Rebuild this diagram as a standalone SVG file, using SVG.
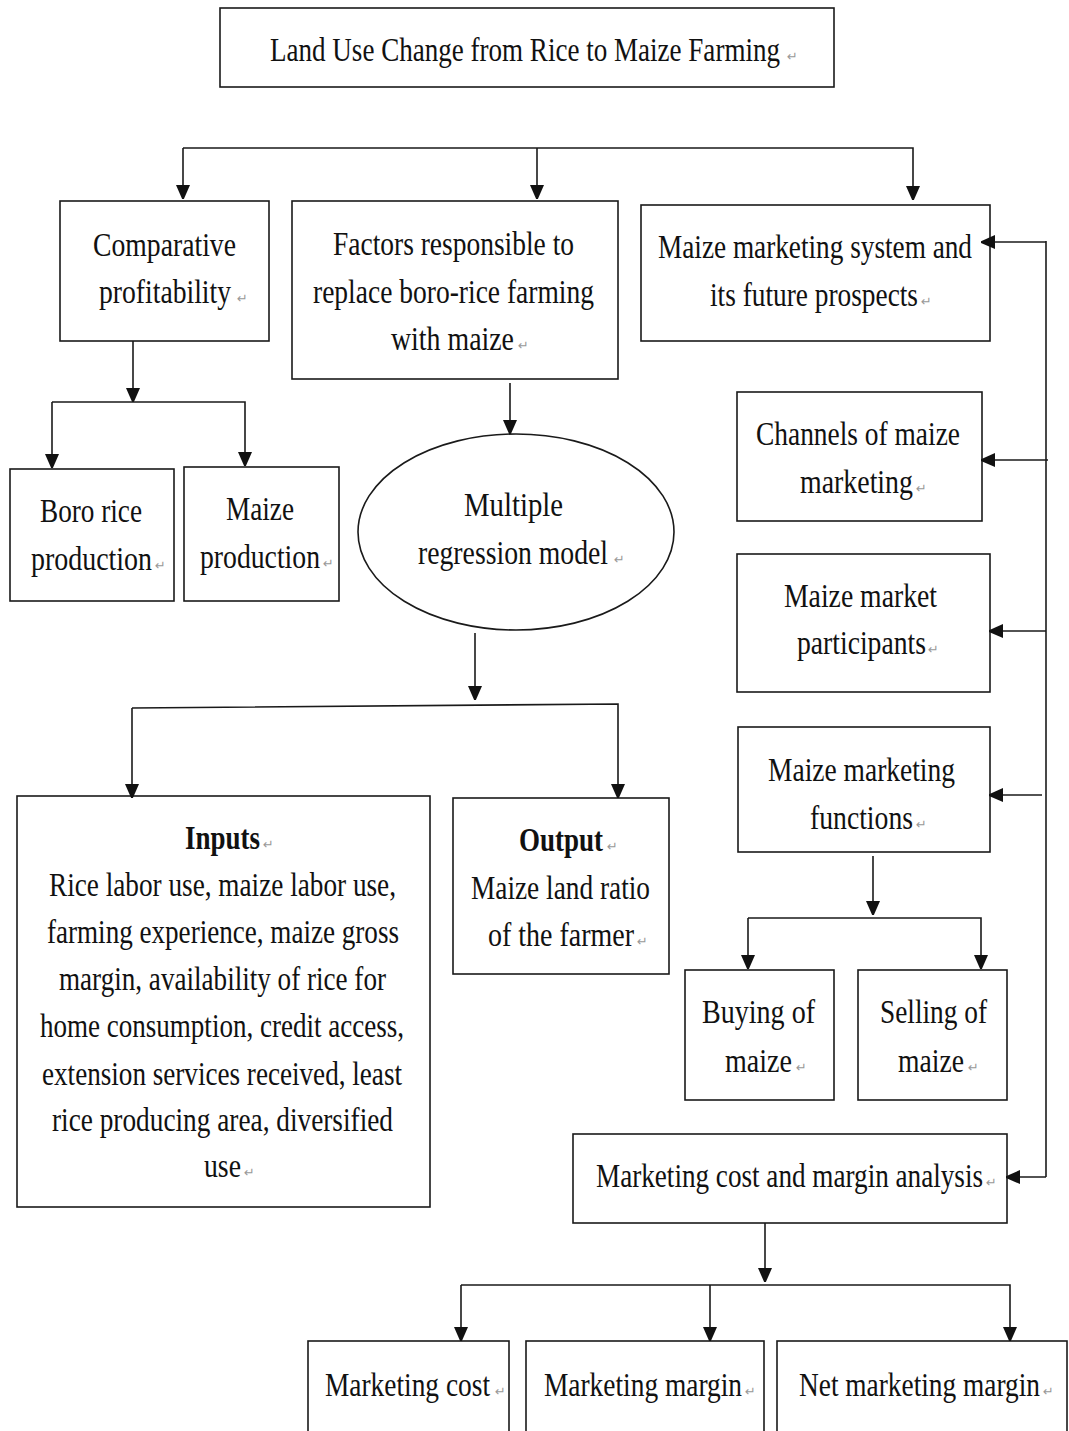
<svg xmlns="http://www.w3.org/2000/svg" width="1069" height="1431" viewBox="0 0 1069 1431">
<style>
.box{fill:#fff;stroke:#1a1a1a;stroke-width:1.6}
.t{font-family:"Liberation Serif","Times New Roman",serif;font-size:34px;fill:#111}
.b{font-weight:bold}
.p{font-family:"DejaVu Sans",sans-serif;font-size:13px;fill:#999}
.c{fill:none;stroke:#1a1a1a;stroke-width:1.6}
</style>
<defs>
<marker id="ah" markerUnits="userSpaceOnUse" markerWidth="14" markerHeight="18" viewBox="0 0 14 18" refX="13" refY="7" orient="auto">
<path d="M0,0 L16,7 L0,14 Z" fill="#111"/>
</marker>
</defs>
<rect width="1069" height="1431" fill="#fff"/>

<g id="title">
<rect class="box" x="220" y="8" width="614" height="79"/>
<text class="t" transform="scale(0.8,1)" x="337.5" y="61" textLength="637.5" lengthAdjust="spacingAndGlyphs">Land Use Change from Rice to Maize Farming</text>
<text class="p" x="787" y="61">↵</text>
</g>

<g id="comparative">
<rect class="box" x="60" y="201" width="209" height="140"/>
<text class="t" transform="scale(0.8,1)" x="116.25" y="256" textLength="178.75" lengthAdjust="spacingAndGlyphs">Comparative</text>
<text class="t" transform="scale(0.8,1)" x="123.75" y="303" textLength="165" lengthAdjust="spacingAndGlyphs">profitability</text>
<text class="p" x="237" y="303">↵</text>
</g>

<g id="factors">
<rect class="box" x="292" y="201" width="326" height="178"/>
<text class="t" transform="scale(0.8,1)" x="416.25" y="255" textLength="301.25" lengthAdjust="spacingAndGlyphs">Factors responsible to</text>
<text class="t" transform="scale(0.8,1)" x="391.25" y="303" textLength="351.25" lengthAdjust="spacingAndGlyphs">replace boro-rice farming</text>
<text class="t" transform="scale(0.8,1)" x="488.75" y="350" textLength="153.75" lengthAdjust="spacingAndGlyphs">with maize</text>
<text class="p" x="518" y="350">↵</text>
</g>

<g id="marketing-system">
<rect class="box" x="641" y="205" width="349" height="136"/>
<text class="t" transform="scale(0.8,1)" x="822.5" y="258" textLength="392.5" lengthAdjust="spacingAndGlyphs">Maize marketing system and</text>
<text class="t" transform="scale(0.8,1)" x="887.5" y="306" textLength="260" lengthAdjust="spacingAndGlyphs">its future prospects</text>
<text class="p" x="921" y="306">↵</text>
</g>

<g id="boro-rice">
<rect class="box" x="10" y="469" width="164" height="132"/>
<text class="t" transform="scale(0.8,1)" x="50" y="522" textLength="127.5" lengthAdjust="spacingAndGlyphs">Boro rice</text>
<text class="t" transform="scale(0.8,1)" x="38.75" y="570" textLength="151.25" lengthAdjust="spacingAndGlyphs">production</text>
<text class="p" x="155" y="570">↵</text>
</g>

<g id="maize-production">
<rect class="box" x="184" y="467" width="155" height="134"/>
<text class="t" transform="scale(0.8,1)" x="282.5" y="520" textLength="85" lengthAdjust="spacingAndGlyphs">Maize</text>
<text class="t" transform="scale(0.8,1)" x="250" y="568" textLength="150" lengthAdjust="spacingAndGlyphs">production</text>
<text class="p" x="323" y="568">↵</text>
</g>

<g id="regression">
<ellipse class="box" cx="516" cy="532" rx="158" ry="98"/>
<text class="t" transform="scale(0.8,1)" x="580" y="516" textLength="123.75" lengthAdjust="spacingAndGlyphs">Multiple</text>
<text class="t" transform="scale(0.8,1)" x="522.5" y="564" textLength="237.5" lengthAdjust="spacingAndGlyphs">regression model</text>
<text class="p" x="614" y="564">↵</text>
</g>

<g id="channels">
<rect class="box" x="737" y="392" width="245" height="129"/>
<text class="t" transform="scale(0.8,1)" x="945" y="445" textLength="255" lengthAdjust="spacingAndGlyphs">Channels of maize</text>
<text class="t" transform="scale(0.8,1)" x="1000" y="493" textLength="141.25" lengthAdjust="spacingAndGlyphs">marketing</text>
<text class="p" x="916" y="493">↵</text>
</g>

<g id="participants">
<rect class="box" x="737" y="554" width="253" height="138"/>
<text class="t" transform="scale(0.8,1)" x="980" y="607" textLength="191.25" lengthAdjust="spacingAndGlyphs">Maize market</text>
<text class="t" transform="scale(0.8,1)" x="996.25" y="654" textLength="161.25" lengthAdjust="spacingAndGlyphs">participants</text>
<text class="p" x="928" y="654">↵</text>
</g>

<g id="functions">
<rect class="box" x="738" y="727" width="252" height="125"/>
<text class="t" transform="scale(0.8,1)" x="960" y="781" textLength="233.75" lengthAdjust="spacingAndGlyphs">Maize marketing</text>
<text class="t" transform="scale(0.8,1)" x="1012.5" y="829" textLength="128.75" lengthAdjust="spacingAndGlyphs">functions</text>
<text class="p" x="916" y="829">↵</text>
</g>

<g id="inputs">
<rect class="box" x="17" y="796" width="413" height="411"/>
<text class="t b" transform="scale(0.8,1)" x="231.25" y="849" textLength="93.75" lengthAdjust="spacingAndGlyphs">Inputs</text>
<text class="p" x="263" y="849">↵</text>
<text class="t" transform="scale(0.8,1)" x="61.25" y="896" textLength="433.75" lengthAdjust="spacingAndGlyphs">Rice labor use, maize labor use,</text>
<text class="t" transform="scale(0.8,1)" x="58.75" y="943" textLength="440" lengthAdjust="spacingAndGlyphs">farming experience, maize gross</text>
<text class="t" transform="scale(0.8,1)" x="73.75" y="990" textLength="408.75" lengthAdjust="spacingAndGlyphs">margin, availability of rice for</text>
<text class="t" transform="scale(0.8,1)" x="50" y="1037" textLength="455" lengthAdjust="spacingAndGlyphs">home consumption, credit access,</text>
<text class="t" transform="scale(0.8,1)" x="52.5" y="1085" textLength="450" lengthAdjust="spacingAndGlyphs">extension services received, least</text>
<text class="t" transform="scale(0.8,1)" x="65" y="1131" textLength="426.25" lengthAdjust="spacingAndGlyphs">rice producing area, diversified</text>
<text class="t" transform="scale(0.8,1)" x="255" y="1177" textLength="46.25" lengthAdjust="spacingAndGlyphs">use</text>
<text class="p" x="244" y="1177">↵</text>
</g>

<g id="output">
<rect class="box" x="453" y="798" width="216" height="176"/>
<text class="t b" transform="scale(0.8,1)" x="648.75" y="851" textLength="105" lengthAdjust="spacingAndGlyphs">Output</text>
<text class="p" x="607" y="851">↵</text>
<text class="t" transform="scale(0.8,1)" x="588.75" y="899" textLength="223.75" lengthAdjust="spacingAndGlyphs">Maize land ratio</text>
<text class="t" transform="scale(0.8,1)" x="610" y="946" textLength="182.5" lengthAdjust="spacingAndGlyphs">of the farmer</text>
<text class="p" x="637" y="946">↵</text>
</g>

<g id="buying">
<rect class="box" x="685" y="970" width="149" height="130"/>
<text class="t" transform="scale(0.8,1)" x="877.5" y="1023" textLength="141.25" lengthAdjust="spacingAndGlyphs">Buying of</text>
<text class="t" transform="scale(0.8,1)" x="906.25" y="1072" textLength="83.75" lengthAdjust="spacingAndGlyphs">maize</text>
<text class="p" x="796" y="1072">↵</text>
</g>

<g id="selling">
<rect class="box" x="858" y="970" width="149" height="130"/>
<text class="t" transform="scale(0.8,1)" x="1100" y="1023" textLength="133.75" lengthAdjust="spacingAndGlyphs">Selling of</text>
<text class="t" transform="scale(0.8,1)" x="1122.5" y="1072" textLength="82.5" lengthAdjust="spacingAndGlyphs">maize</text>
<text class="p" x="968" y="1072">↵</text>
</g>

<g id="cost-margin">
<rect class="box" x="573" y="1134" width="434" height="89"/>
<text class="t" transform="scale(0.8,1)" x="745" y="1187" textLength="483.75" lengthAdjust="spacingAndGlyphs">Marketing cost and margin analysis</text>
<text class="p" x="986" y="1187">↵</text>
</g>

<g id="marketing-cost">
<rect class="box" x="308" y="1341" width="201" height="100"/>
<text class="t" transform="scale(0.8,1)" x="406.25" y="1396" textLength="206.25" lengthAdjust="spacingAndGlyphs">Marketing cost</text>
<text class="p" x="495" y="1396">↵</text>
</g>

<g id="marketing-margin">
<rect class="box" x="526" y="1341" width="238" height="100"/>
<text class="t" transform="scale(0.8,1)" x="680" y="1396" textLength="247.5" lengthAdjust="spacingAndGlyphs">Marketing margin</text>
<text class="p" x="745" y="1396">↵</text>
</g>

<g id="net-margin">
<rect class="box" x="777" y="1341" width="290" height="100"/>
<text class="t" transform="scale(0.8,1)" x="998.75" y="1396" textLength="301.25" lengthAdjust="spacingAndGlyphs">Net marketing margin</text>
<text class="p" x="1043" y="1396">↵</text>
</g>

<g id="connectors">
<path class="c" d="M183,148 H913 V199" marker-end="url(#ah)"/>
<path class="c" d="M183,148 V198" marker-end="url(#ah)"/>
<path class="c" d="M537,148 V198" marker-end="url(#ah)"/>
<path class="c" d="M133,341 V401" marker-end="url(#ah)"/>
<path class="c" d="M52,402 H245 V465" marker-end="url(#ah)"/>
<path class="c" d="M52,402 V467" marker-end="url(#ah)"/>
<path class="c" d="M510,383 V433" marker-end="url(#ah)"/>
<path class="c" d="M475,633 V699" marker-end="url(#ah)"/>
<path class="c" d="M132,708 L618,704 V797" marker-end="url(#ah)"/>
<path class="c" d="M132,708 V797" marker-end="url(#ah)"/>
<path class="c" d="M1046,241 V1177"/>
<path class="c" d="M1046,242 H982" marker-end="url(#ah)"/>
<path class="c" d="M1048,460 H982" marker-end="url(#ah)"/>
<path class="c" d="M1046,631 H990" marker-end="url(#ah)"/>
<path class="c" d="M1042,795 H990" marker-end="url(#ah)"/>
<path class="c" d="M1046,1177 H1007" marker-end="url(#ah)"/>
<path class="c" d="M873,856 V914" marker-end="url(#ah)"/>
<path class="c" d="M748,918 H981 V968" marker-end="url(#ah)"/>
<path class="c" d="M748,918 V968" marker-end="url(#ah)"/>
<path class="c" d="M765,1223 V1281" marker-end="url(#ah)"/>
<path class="c" d="M461,1285 H1010 V1340" marker-end="url(#ah)"/>
<path class="c" d="M461,1285 V1340" marker-end="url(#ah)"/>
<path class="c" d="M710,1285 V1340" marker-end="url(#ah)"/>
</g>
</svg>
